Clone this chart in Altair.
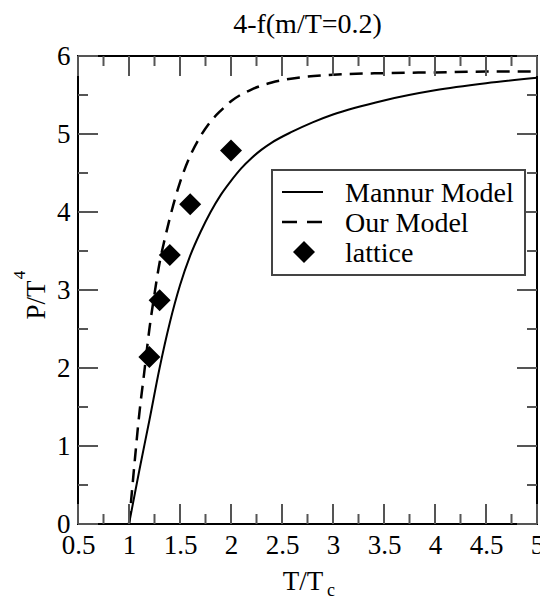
import altair as alt
import pandas as pd

# ---------------- data ----------------
mannur_x = [1.0, 1.1, 1.2, 1.3, 1.4, 1.5, 1.6, 1.7, 1.8, 1.9, 2.0, 2.1, 2.2, 2.3, 2.4, 2.6, 2.8, 3.0, 3.5, 4.0, 4.5, 5.0]
mannur_y = [0.0, 0.68, 1.33, 2.0, 2.58, 3.06, 3.44, 3.74, 4.0, 4.22, 4.40, 4.56, 4.69, 4.80, 4.89, 5.03, 5.15, 5.25, 5.43, 5.56, 5.65, 5.72]

our_x = [1.0, 1.05, 1.1, 1.15, 1.2, 1.25, 1.3, 1.35, 1.4, 1.5, 1.6, 1.7, 1.8, 1.9, 2.0, 2.2, 2.4, 2.7, 3.0, 3.5, 4.0, 4.5, 5.0]
our_y = [0.0, 0.72, 1.4, 1.95, 2.5, 2.95, 3.35, 3.65, 3.92, 4.38, 4.72, 4.97, 5.16, 5.3, 5.42, 5.57, 5.66, 5.73, 5.76, 5.78, 5.79, 5.80, 5.80]

lat_x = [1.2, 1.3, 1.4, 1.6, 2.0]
lat_y = [2.14, 2.87, 3.45, 4.10, 4.79]

x_major = [0.5, 1.0, 1.5, 2.0, 2.5, 3.0, 3.5, 4.0, 4.5, 5.0]
x_minor = [0.75, 1.25, 1.75, 2.25, 2.75, 3.25, 3.75, 4.25, 4.75]
y_major = [0, 1, 2, 3, 4, 5, 6]
y_minor = [0.5, 1.5, 2.5, 3.5, 4.5, 5.5]

legend_labels = ["Mannur Model", "Our Model", "lattice"]
title_text = "4-f(m/T=0.2)"

# ---------------- style ----------------
W, H = 459, 468
FONT = "Liberation Serif"
TICK = "#555555"

xs = alt.Scale(domain=[0.5, 5], nice=False, zero=False)
ys = alt.Scale(domain=[0, 6], nice=False, zero=False)

xaxis = alt.Axis(values=x_major, format="~g", ticks=False, domain=False, grid=False,
                 labelFont=FONT, labelFontSize=27, labelColor="black", labelPadding=8,
                 labelFlush=False, labelOverlap=False, title=None)
yaxis = alt.Axis(values=y_major, format="~g", ticks=False, domain=False, grid=False,
                 labelFont=FONT, labelFontSize=27, labelColor="black", labelPadding=8,
                 labelFlush=False, labelOverlap=False, title=None)

X = lambda: alt.X("x:Q", scale=xs, axis=xaxis)
Y = lambda: alt.Y("y:Q", scale=ys, axis=yaxis)

mannur = alt.Chart(pd.DataFrame({"x": mannur_x, "y": mannur_y})).mark_line(
    color="black", strokeWidth=2, interpolate="monotone"
).encode(x=X(), y=Y())

our = alt.Chart(pd.DataFrame({"x": our_x, "y": our_y})).mark_line(
    color="black", strokeWidth=2.5, strokeDash=[13, 8], interpolate="monotone"
).encode(x=X(), y=Y())

lattice = alt.Chart(pd.DataFrame({"x": lat_x, "y": lat_y})).mark_point(
    shape="diamond", filled=True, size=484, color="black", opacity=1
).encode(x=X(), y=Y())


def xticks(vals, y1, y2):
    return alt.Chart(pd.DataFrame({"x": vals})).mark_rule(color=TICK, strokeWidth=2).encode(
        x=X(), y=alt.value(y1), y2=alt.value(y2))


def yticks(vals, x1, x2):
    return alt.Chart(pd.DataFrame({"y": vals})).mark_rule(color=TICK, strokeWidth=2).encode(
        y=Y(), x=alt.value(x1), x2=alt.value(x2))


tick_layers = [
    xticks(x_major, H, H - 20), xticks(x_minor, H, H - 10),
    xticks(x_major, 0, 20), xticks(x_minor, 0, 10),
    yticks(y_major, 0, 20), yticks(y_minor, 0, 10),
    yticks(y_major, W, W - 20), yticks(y_minor, W, W - 10),
]


def text(t, x, y, size, align="left", angle=0, baseline="alphabetic"):
    return alt.Chart(pd.DataFrame({"t": [t]})).mark_text(
        font=FONT, fontSize=size, align=align, baseline=baseline, angle=angle, color="black"
    ).encode(text="t:N", x=alt.value(x), y=alt.value(y))


one = pd.DataFrame({"a": [0]})
legend_box = alt.Chart(one).mark_rect(fill="white", stroke="#444444", strokeWidth=2).encode(
    x=alt.value(194), x2=alt.value(447), y=alt.value(114), y2=alt.value(219))
leg_solid = alt.Chart(one).mark_rule(color="black", strokeWidth=2).encode(
    x=alt.value(204), x2=alt.value(245), y=alt.value(136))
leg_dash = alt.Chart(one).mark_rule(color="black", strokeWidth=2.5, strokeDash=[15, 10]).encode(
    x=alt.value(204), x2=alt.value(245), y=alt.value(166))
leg_diamond = alt.Chart(one).mark_point(shape="diamond", filled=True, size=484, color="black", opacity=1).encode(
    x=alt.value(226), y=alt.value(196))

texts = [
    text(title_text, W / 2, -23, 28, align="center"),
    text("T/T", 225, 534, 27, align="center"),
    text("c", 249, 540, 18, align="left"),
    text("P/T", -33, 244, 27, align="center", angle=270),
    text("4", -53, 219, 17, align="center", angle=270),
    text(legend_labels[0], 267, 146, 28),
    text(legend_labels[1], 267, 176, 28),
    text(legend_labels[2], 267, 206, 28),
]

chart = alt.layer(
    mannur, our, *tick_layers, lattice,
    legend_box, leg_solid, leg_dash, leg_diamond, *texts
).properties(
    width=W, height=H,
    padding={"left": 78, "top": 56, "right": 3, "bottom": 75},
    autosize="none",
    background="white",
).configure_view(stroke="black", strokeWidth=2)

chart.save("out.html", embed_options={"renderer": "svg", "actions": False})
